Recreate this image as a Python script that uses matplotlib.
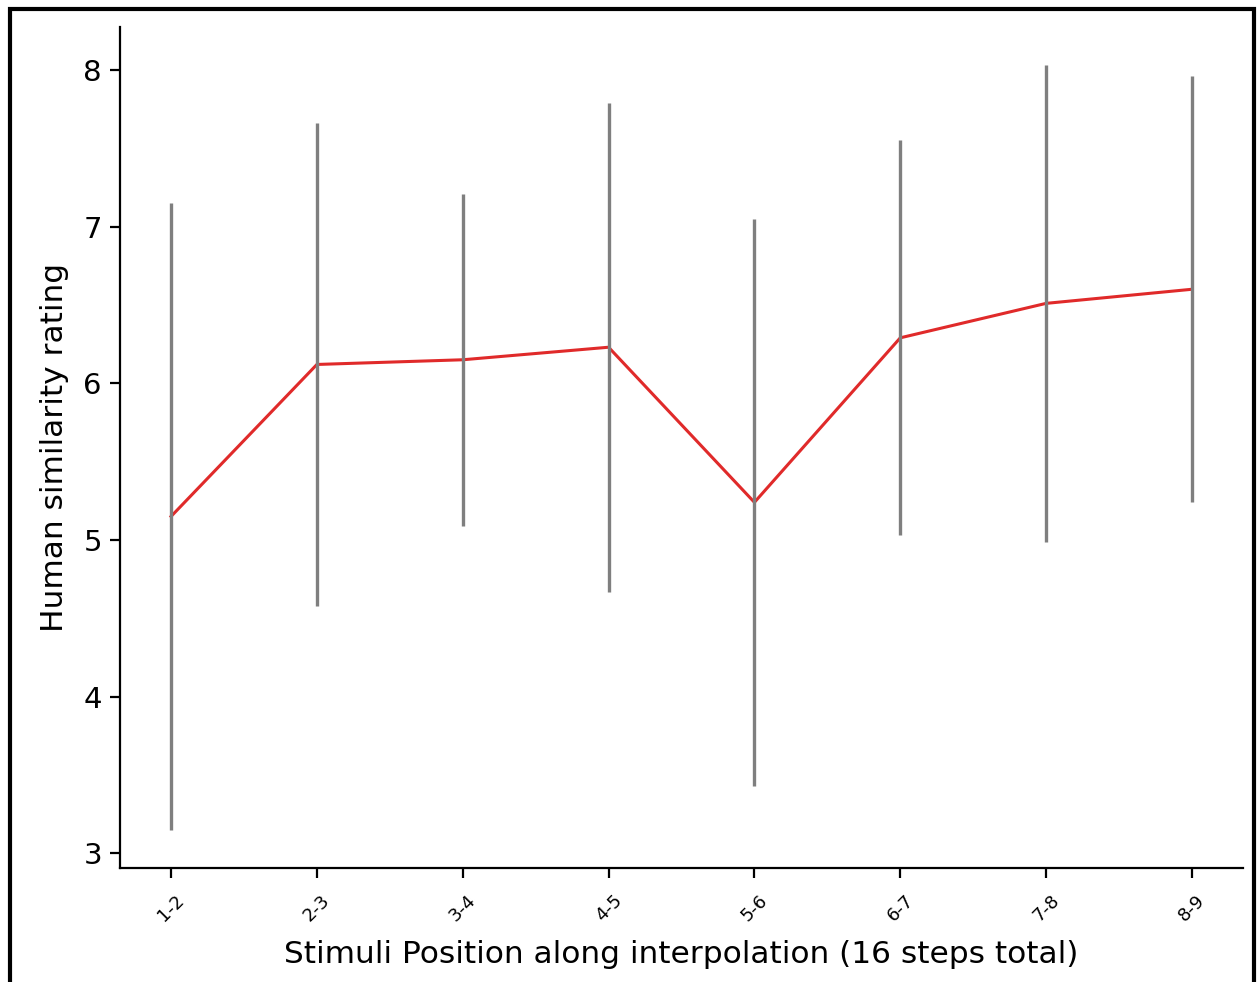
import numpy as np
import matplotlib.pyplot as plt
from matplotlib.patches import Rectangle

# pair labels along the interpolation
pairs = ["1-2", "2-3", "3-4", "4-5", "5-6", "6-7", "7-8", "8-9"]
# mean human similarity rating per pair
mean_rating = [5.15, 6.12, 6.15, 6.23, 5.24, 6.29, 6.51, 6.60]
# standard deviation per pair
std_rating = [2.00, 1.54, 1.06, 1.56, 1.81, 1.26, 1.52, 1.36]

fig = plt.figure(figsize=(12.6, 9.82), dpi=100)
ax = fig.add_axes([120 / 1260, 1 - 868 / 982, (1243 - 120) / 1260, (868 - 27) / 982])

x = np.arange(len(pairs))
mean_rating = np.array(mean_rating)
std_rating = np.array(std_rating)

# red mean line underneath, grey std bars on top
ax.plot(x, mean_rating, color="#e02a2a", linewidth=2.2, zorder=2)
ax.vlines(x, mean_rating - std_rating, mean_rating + std_rating,
          color="#7f7f7f", linewidth=2.4, zorder=3)

ax.set_xticks(x)
ax.set_xticklabels(pairs, rotation=45, fontsize=13)
ax.set_yticks([3, 4, 5, 6, 7, 8])
ax.tick_params(axis="y", labelsize=21, length=7, width=1.6, pad=6)
ax.tick_params(axis="x", length=7, width=1.6, pad=10)
ax.set_xlabel("Stimuli Position along interpolation (16 steps total)", fontsize=22.5, labelpad=11)
ax.set_ylabel("Human similarity rating", fontsize=22.5, labelpad=10)

ax.spines["top"].set_visible(False)
ax.spines["right"].set_visible(False)
for side in ["left", "bottom"]:
    ax.spines[side].set_linewidth(1.6)

# screenshot frame around the figure (bottom edge cut off)
fig.patches.append(Rectangle((10 / 1260, -0.05), (1254 - 10) / 1260, 1.05 - 9 / 982,
                             transform=fig.transFigure, fill=False,
                             edgecolor="black", linewidth=3))

fig.savefig("out.png", dpi=100)
